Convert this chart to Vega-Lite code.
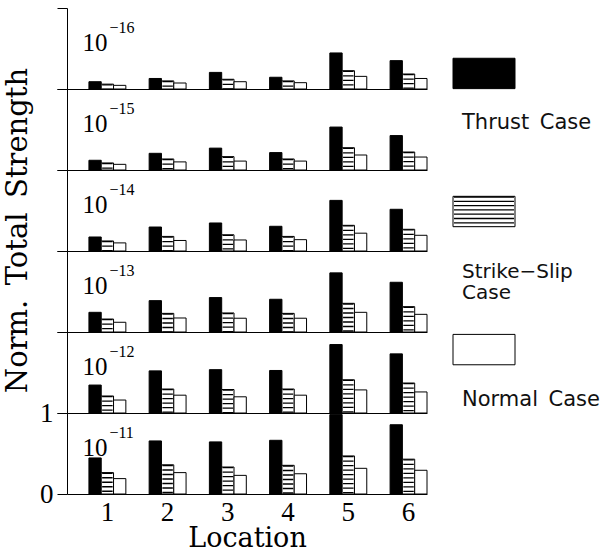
{
  "$schema": "https://vega.github.io/schema/vega-lite/v6.json",
  "padding": {"left": 3, "top": 7, "right": 0, "bottom": 0},
  "background": "white",
  "datasets": {
    "bars": [
      {"p": "−16", "loc": "1", "case": "Thrust", "v": 0.09}, {"p": "−16", "loc": "1", "case": "Strike-Slip", "v": 0.06}, {"p": "−16", "loc": "1", "case": "Normal", "v": 0.045},
      {"p": "−16", "loc": "2", "case": "Thrust", "v": 0.13}, {"p": "−16", "loc": "2", "case": "Strike-Slip", "v": 0.1}, {"p": "−16", "loc": "2", "case": "Normal", "v": 0.074},
      {"p": "−16", "loc": "3", "case": "Thrust", "v": 0.205}, {"p": "−16", "loc": "3", "case": "Strike-Slip", "v": 0.12}, {"p": "−16", "loc": "3", "case": "Normal", "v": 0.09},
      {"p": "−16", "loc": "4", "case": "Thrust", "v": 0.145}, {"p": "−16", "loc": "4", "case": "Strike-Slip", "v": 0.1}, {"p": "−16", "loc": "4", "case": "Normal", "v": 0.078},
      {"p": "−16", "loc": "5", "case": "Thrust", "v": 0.445}, {"p": "−16", "loc": "5", "case": "Strike-Slip", "v": 0.226}, {"p": "−16", "loc": "5", "case": "Normal", "v": 0.156},
      {"p": "−16", "loc": "6", "case": "Thrust", "v": 0.35}, {"p": "−16", "loc": "6", "case": "Strike-Slip", "v": 0.185}, {"p": "−16", "loc": "6", "case": "Normal", "v": 0.13},
      {"p": "−15", "loc": "1", "case": "Thrust", "v": 0.12}, {"p": "−15", "loc": "1", "case": "Strike-Slip", "v": 0.087}, {"p": "−15", "loc": "1", "case": "Normal", "v": 0.07},
      {"p": "−15", "loc": "2", "case": "Thrust", "v": 0.206}, {"p": "−15", "loc": "2", "case": "Strike-Slip", "v": 0.136}, {"p": "−15", "loc": "2", "case": "Normal", "v": 0.1},
      {"p": "−15", "loc": "3", "case": "Thrust", "v": 0.27}, {"p": "−15", "loc": "3", "case": "Strike-Slip", "v": 0.165}, {"p": "−15", "loc": "3", "case": "Normal", "v": 0.11},
      {"p": "−15", "loc": "4", "case": "Thrust", "v": 0.215}, {"p": "−15", "loc": "4", "case": "Strike-Slip", "v": 0.136}, {"p": "−15", "loc": "4", "case": "Normal", "v": 0.11},
      {"p": "−15", "loc": "5", "case": "Thrust", "v": 0.53}, {"p": "−15", "loc": "5", "case": "Strike-Slip", "v": 0.275}, {"p": "−15", "loc": "5", "case": "Normal", "v": 0.185},
      {"p": "−15", "loc": "6", "case": "Thrust", "v": 0.425}, {"p": "−15", "loc": "6", "case": "Strike-Slip", "v": 0.222}, {"p": "−15", "loc": "6", "case": "Normal", "v": 0.16},
      {"p": "−14", "loc": "1", "case": "Thrust", "v": 0.173}, {"p": "−14", "loc": "1", "case": "Strike-Slip", "v": 0.124}, {"p": "−14", "loc": "1", "case": "Normal", "v": 0.1},
      {"p": "−14", "loc": "2", "case": "Thrust", "v": 0.296}, {"p": "−14", "loc": "2", "case": "Strike-Slip", "v": 0.18}, {"p": "−14", "loc": "2", "case": "Normal", "v": 0.13},
      {"p": "−14", "loc": "3", "case": "Thrust", "v": 0.346}, {"p": "−14", "loc": "3", "case": "Strike-Slip", "v": 0.2}, {"p": "−14", "loc": "3", "case": "Normal", "v": 0.136},
      {"p": "−14", "loc": "4", "case": "Thrust", "v": 0.305}, {"p": "−14", "loc": "4", "case": "Strike-Slip", "v": 0.18}, {"p": "−14", "loc": "4", "case": "Normal", "v": 0.14},
      {"p": "−14", "loc": "5", "case": "Thrust", "v": 0.625}, {"p": "−14", "loc": "5", "case": "Strike-Slip", "v": 0.317}, {"p": "−14", "loc": "5", "case": "Normal", "v": 0.22},
      {"p": "−14", "loc": "6", "case": "Thrust", "v": 0.515}, {"p": "−14", "loc": "6", "case": "Strike-Slip", "v": 0.268}, {"p": "−14", "loc": "6", "case": "Normal", "v": 0.194},
      {"p": "−13", "loc": "1", "case": "Thrust", "v": 0.243}, {"p": "−13", "loc": "1", "case": "Strike-Slip", "v": 0.16}, {"p": "−13", "loc": "1", "case": "Normal", "v": 0.12},
      {"p": "−13", "loc": "2", "case": "Thrust", "v": 0.387}, {"p": "−13", "loc": "2", "case": "Strike-Slip", "v": 0.23}, {"p": "−13", "loc": "2", "case": "Normal", "v": 0.173},
      {"p": "−13", "loc": "3", "case": "Thrust", "v": 0.425}, {"p": "−13", "loc": "3", "case": "Strike-Slip", "v": 0.235}, {"p": "−13", "loc": "3", "case": "Normal", "v": 0.17},
      {"p": "−13", "loc": "4", "case": "Thrust", "v": 0.404}, {"p": "−13", "loc": "4", "case": "Strike-Slip", "v": 0.23}, {"p": "−13", "loc": "4", "case": "Normal", "v": 0.17},
      {"p": "−13", "loc": "5", "case": "Thrust", "v": 0.73}, {"p": "−13", "loc": "5", "case": "Strike-Slip", "v": 0.354}, {"p": "−13", "loc": "5", "case": "Normal", "v": 0.243},
      {"p": "−13", "loc": "6", "case": "Thrust", "v": 0.614}, {"p": "−13", "loc": "6", "case": "Strike-Slip", "v": 0.313}, {"p": "−13", "loc": "6", "case": "Normal", "v": 0.218},
      {"p": "−12", "loc": "1", "case": "Thrust", "v": 0.345}, {"p": "−12", "loc": "1", "case": "Strike-Slip", "v": 0.21}, {"p": "−12", "loc": "1", "case": "Normal", "v": 0.16},
      {"p": "−12", "loc": "2", "case": "Thrust", "v": 0.52}, {"p": "−12", "loc": "2", "case": "Strike-Slip", "v": 0.296}, {"p": "−12", "loc": "2", "case": "Normal", "v": 0.22},
      {"p": "−12", "loc": "3", "case": "Thrust", "v": 0.535}, {"p": "−12", "loc": "3", "case": "Strike-Slip", "v": 0.29}, {"p": "−12", "loc": "3", "case": "Normal", "v": 0.2},
      {"p": "−12", "loc": "4", "case": "Thrust", "v": 0.525}, {"p": "−12", "loc": "4", "case": "Strike-Slip", "v": 0.296}, {"p": "−12", "loc": "4", "case": "Normal", "v": 0.22},
      {"p": "−12", "loc": "5", "case": "Thrust", "v": 0.845}, {"p": "−12", "loc": "5", "case": "Strike-Slip", "v": 0.41}, {"p": "−12", "loc": "5", "case": "Normal", "v": 0.285},
      {"p": "−12", "loc": "6", "case": "Thrust", "v": 0.73}, {"p": "−12", "loc": "6", "case": "Strike-Slip", "v": 0.37}, {"p": "−12", "loc": "6", "case": "Normal", "v": 0.26},
      {"p": "−11", "loc": "1", "case": "Thrust", "v": 0.445}, {"p": "−11", "loc": "1", "case": "Strike-Slip", "v": 0.264}, {"p": "−11", "loc": "1", "case": "Normal", "v": 0.19},
      {"p": "−11", "loc": "2", "case": "Thrust", "v": 0.655}, {"p": "−11", "loc": "2", "case": "Strike-Slip", "v": 0.36}, {"p": "−11", "loc": "2", "case": "Normal", "v": 0.264},
      {"p": "−11", "loc": "3", "case": "Thrust", "v": 0.643}, {"p": "−11", "loc": "3", "case": "Strike-Slip", "v": 0.333}, {"p": "−11", "loc": "3", "case": "Normal", "v": 0.23},
      {"p": "−11", "loc": "4", "case": "Thrust", "v": 0.663}, {"p": "−11", "loc": "4", "case": "Strike-Slip", "v": 0.354}, {"p": "−11", "loc": "4", "case": "Normal", "v": 0.25},
      {"p": "−11", "loc": "5", "case": "Thrust", "v": 0.98}, {"p": "−11", "loc": "5", "case": "Strike-Slip", "v": 0.47}, {"p": "−11", "loc": "5", "case": "Normal", "v": 0.317},
      {"p": "−11", "loc": "6", "case": "Thrust", "v": 0.855}, {"p": "−11", "loc": "6", "case": "Strike-Slip", "v": 0.43}, {"p": "−11", "loc": "6", "case": "Normal", "v": 0.293}
    ],
    "legend": [
      {"case": "Thrust", "label": "Thrust\u2002Case"},
      {"case": "Strike-Slip", "label": "Strike−Slip\nCase"},
      {"case": "Normal", "label": "Normal\u2002Case"}
    ]
  },
  "spacing": 24,
  "hconcat": [
    {
      "data": {"name": "bars"},
      "spacing": 0,
      "bounds": "flush",
      "vconcat": [
        {
          "width": 360, "height": 81,
          "transform": [{"filter": "datum.p == '−16'"}],
          "encoding": {
            "x": {"field": "loc", "type": "nominal", "scale": {"paddingInner": 0.387, "paddingOuter": 0.182, "align": 1}, "axis": {"labels": false, "ticks": false, "title": null}},
            "y": {"field": "v", "type": "quantitative", "scale": {"domain": [0, 1], "nice": false}, "axis": {"values": [0, 1], "labels": false, "tickSize": 10, "title": null}}
          },
          "layer": [
            {"mark": {"type": "bar", "stroke": "black", "strokeWidth": 1}, "encoding": {"xOffset": {"field": "case", "type": "nominal", "scale": {"domain": ["Thrust", "Strike-Slip", "Normal"], "paddingInner": 0, "paddingOuter": 0}}, "fill": {"field": "case", "type": "nominal", "scale": {"domain": ["Thrust", "Strike-Slip", "Normal"], "range": ["black", "white", "white"]}, "legend": null}}},
            {"transform": [{"filter": "datum.case == 'Strike-Slip'"}], "mark": {"type": "rule", "strokeWidth": 10.5, "strokeDash": [1.3, 3.2], "color": "black", "strokeCap": "butt"}, "encoding": {"xOffset": {"field": "case", "type": "nominal"}, "y2": {"datum": 0}}},
            {"transform": [{"filter": "datum.loc == '1' && datum.case == 'Thrust'"}], "mark": {"type": "text", "align": "right", "baseline": "alphabetic", "font": "Liberation Serif", "fontSize": 25, "text": "10"}, "encoding": {"y": {"datum": 0.47}}},
            {"transform": [{"filter": "datum.loc == '1' && datum.case == 'Thrust'"}], "mark": {"type": "text", "align": "left", "baseline": "alphabetic", "dx": 2, "font": "Liberation Serif", "fontSize": 16}, "encoding": {"y": {"datum": 0.69}, "text": {"field": "p"}}}
          ]
        },
        {
          "width": 360, "height": 81,
          "transform": [{"filter": "datum.p == '−15'"}],
          "encoding": {
            "x": {"field": "loc", "type": "nominal", "scale": {"paddingInner": 0.387, "paddingOuter": 0.182, "align": 1}, "axis": {"labels": false, "ticks": false, "title": null}},
            "y": {"field": "v", "type": "quantitative", "scale": {"domain": [0, 1], "nice": false}, "axis": {"values": [0, 1], "labels": false, "tickSize": 10, "title": null}}
          },
          "layer": [
            {"mark": {"type": "bar", "stroke": "black", "strokeWidth": 1}, "encoding": {"xOffset": {"field": "case", "type": "nominal", "scale": {"domain": ["Thrust", "Strike-Slip", "Normal"], "paddingInner": 0, "paddingOuter": 0}}, "fill": {"field": "case", "type": "nominal", "scale": {"domain": ["Thrust", "Strike-Slip", "Normal"], "range": ["black", "white", "white"]}, "legend": null}}},
            {"transform": [{"filter": "datum.case == 'Strike-Slip'"}], "mark": {"type": "rule", "strokeWidth": 10.5, "strokeDash": [1.3, 3.2], "color": "black", "strokeCap": "butt"}, "encoding": {"xOffset": {"field": "case", "type": "nominal"}, "y2": {"datum": 0}}},
            {"transform": [{"filter": "datum.loc == '1' && datum.case == 'Thrust'"}], "mark": {"type": "text", "align": "right", "baseline": "alphabetic", "font": "Liberation Serif", "fontSize": 25, "text": "10"}, "encoding": {"y": {"datum": 0.47}}},
            {"transform": [{"filter": "datum.loc == '1' && datum.case == 'Thrust'"}], "mark": {"type": "text", "align": "left", "baseline": "alphabetic", "dx": 2, "font": "Liberation Serif", "fontSize": 16}, "encoding": {"y": {"datum": 0.69}, "text": {"field": "p"}}}
          ]
        },
        {
          "width": 360, "height": 81,
          "transform": [{"filter": "datum.p == '−14'"}],
          "encoding": {
            "x": {"field": "loc", "type": "nominal", "scale": {"paddingInner": 0.387, "paddingOuter": 0.182, "align": 1}, "axis": {"labels": false, "ticks": false, "title": null}},
            "y": {"field": "v", "type": "quantitative", "scale": {"domain": [0, 1], "nice": false}, "axis": {"values": [0, 1], "labels": false, "tickSize": 10, "title": null}}
          },
          "layer": [
            {"mark": {"type": "bar", "stroke": "black", "strokeWidth": 1}, "encoding": {"xOffset": {"field": "case", "type": "nominal", "scale": {"domain": ["Thrust", "Strike-Slip", "Normal"], "paddingInner": 0, "paddingOuter": 0}}, "fill": {"field": "case", "type": "nominal", "scale": {"domain": ["Thrust", "Strike-Slip", "Normal"], "range": ["black", "white", "white"]}, "legend": null}}},
            {"transform": [{"filter": "datum.case == 'Strike-Slip'"}], "mark": {"type": "rule", "strokeWidth": 10.5, "strokeDash": [1.3, 3.2], "color": "black", "strokeCap": "butt"}, "encoding": {"xOffset": {"field": "case", "type": "nominal"}, "y2": {"datum": 0}}},
            {"transform": [{"filter": "datum.loc == '1' && datum.case == 'Thrust'"}], "mark": {"type": "text", "align": "right", "baseline": "alphabetic", "font": "Liberation Serif", "fontSize": 25, "text": "10"}, "encoding": {"y": {"datum": 0.47}}},
            {"transform": [{"filter": "datum.loc == '1' && datum.case == 'Thrust'"}], "mark": {"type": "text", "align": "left", "baseline": "alphabetic", "dx": 2, "font": "Liberation Serif", "fontSize": 16}, "encoding": {"y": {"datum": 0.69}, "text": {"field": "p"}}}
          ]
        },
        {
          "width": 360, "height": 81,
          "transform": [{"filter": "datum.p == '−13'"}],
          "encoding": {
            "x": {"field": "loc", "type": "nominal", "scale": {"paddingInner": 0.387, "paddingOuter": 0.182, "align": 1}, "axis": {"labels": false, "ticks": false, "title": null}},
            "y": {"field": "v", "type": "quantitative", "scale": {"domain": [0, 1], "nice": false}, "axis": {"values": [0, 1], "labels": false, "tickSize": 10, "title": null}}
          },
          "layer": [
            {"mark": {"type": "bar", "stroke": "black", "strokeWidth": 1}, "encoding": {"xOffset": {"field": "case", "type": "nominal", "scale": {"domain": ["Thrust", "Strike-Slip", "Normal"], "paddingInner": 0, "paddingOuter": 0}}, "fill": {"field": "case", "type": "nominal", "scale": {"domain": ["Thrust", "Strike-Slip", "Normal"], "range": ["black", "white", "white"]}, "legend": null}}},
            {"transform": [{"filter": "datum.case == 'Strike-Slip'"}], "mark": {"type": "rule", "strokeWidth": 10.5, "strokeDash": [1.3, 3.2], "color": "black", "strokeCap": "butt"}, "encoding": {"xOffset": {"field": "case", "type": "nominal"}, "y2": {"datum": 0}}},
            {"transform": [{"filter": "datum.loc == '1' && datum.case == 'Thrust'"}], "mark": {"type": "text", "align": "right", "baseline": "alphabetic", "font": "Liberation Serif", "fontSize": 25, "text": "10"}, "encoding": {"y": {"datum": 0.47}}},
            {"transform": [{"filter": "datum.loc == '1' && datum.case == 'Thrust'"}], "mark": {"type": "text", "align": "left", "baseline": "alphabetic", "dx": 2, "font": "Liberation Serif", "fontSize": 16}, "encoding": {"y": {"datum": 0.69}, "text": {"field": "p"}}}
          ]
        },
        {
          "width": 360, "height": 81,
          "transform": [{"filter": "datum.p == '−12'"}],
          "encoding": {
            "x": {"field": "loc", "type": "nominal", "scale": {"paddingInner": 0.387, "paddingOuter": 0.182, "align": 1}, "axis": {"labels": false, "ticks": false, "title": null}},
            "y": {"field": "v", "type": "quantitative", "scale": {"domain": [0, 1], "nice": false}, "axis": {"values": [0, 1], "labels": false, "tickSize": 10, "title": null}}
          },
          "layer": [
            {"mark": {"type": "bar", "stroke": "black", "strokeWidth": 1}, "encoding": {"xOffset": {"field": "case", "type": "nominal", "scale": {"domain": ["Thrust", "Strike-Slip", "Normal"], "paddingInner": 0, "paddingOuter": 0}}, "fill": {"field": "case", "type": "nominal", "scale": {"domain": ["Thrust", "Strike-Slip", "Normal"], "range": ["black", "white", "white"]}, "legend": null}}},
            {"transform": [{"filter": "datum.case == 'Strike-Slip'"}], "mark": {"type": "rule", "strokeWidth": 10.5, "strokeDash": [1.3, 3.2], "color": "black", "strokeCap": "butt"}, "encoding": {"xOffset": {"field": "case", "type": "nominal"}, "y2": {"datum": 0}}},
            {"transform": [{"filter": "datum.loc == '1' && datum.case == 'Thrust'"}], "mark": {"type": "text", "align": "right", "baseline": "alphabetic", "font": "Liberation Serif", "fontSize": 25, "text": "10"}, "encoding": {"y": {"datum": 0.47}}},
            {"transform": [{"filter": "datum.loc == '1' && datum.case == 'Thrust'"}], "mark": {"type": "text", "align": "left", "baseline": "alphabetic", "dx": 2, "font": "Liberation Serif", "fontSize": 16}, "encoding": {"y": {"datum": 0.69}, "text": {"field": "p"}}}
          ]
        },
        {
          "width": 360, "height": 81,
          "transform": [{"filter": "datum.p == '−11'"}],
          "encoding": {
            "x": {"field": "loc", "type": "nominal", "scale": {"paddingInner": 0.387, "paddingOuter": 0.182, "align": 1}, "axis": {"labels": true, "ticks": false, "labelAngle": 0, "labelFont": "Liberation Serif", "labelFontSize": 27, "labelPadding": 5, "title": "Location", "titleFont": "DejaVu Serif", "titleFontSize": 27, "titleFontWeight": "normal", "titlePadding": 0}},
            "y": {"field": "v", "type": "quantitative", "scale": {"domain": [0, 1], "nice": false}, "axis": {"values": [0, 1], "format": "d", "labels": true, "labelFont": "Liberation Serif", "labelFontSize": 27, "labelPadding": 4, "tickSize": 10, "title": "Norm.\u2002Total\u2002Strength", "titleFont": "DejaVu Serif", "titleFontSize": 29, "titleFontWeight": "normal", "titleX": -50, "titleY": -183, "titleBaseline": "middle", "titleAlign": "center"}}
          },
          "layer": [
            {"mark": {"type": "bar", "stroke": "black", "strokeWidth": 1}, "encoding": {"xOffset": {"field": "case", "type": "nominal", "scale": {"domain": ["Thrust", "Strike-Slip", "Normal"], "paddingInner": 0, "paddingOuter": 0}}, "fill": {"field": "case", "type": "nominal", "scale": {"domain": ["Thrust", "Strike-Slip", "Normal"], "range": ["black", "white", "white"]}, "legend": null}}},
            {"transform": [{"filter": "datum.case == 'Strike-Slip'"}], "mark": {"type": "rule", "strokeWidth": 10.5, "strokeDash": [1.3, 3.2], "color": "black", "strokeCap": "butt"}, "encoding": {"xOffset": {"field": "case", "type": "nominal"}, "y2": {"datum": 0}}},
            {"transform": [{"filter": "datum.loc == '1' && datum.case == 'Thrust'"}], "mark": {"type": "text", "align": "right", "baseline": "alphabetic", "font": "Liberation Serif", "fontSize": 25, "text": "10"}, "encoding": {"y": {"datum": 0.47}}},
            {"transform": [{"filter": "datum.loc == '1' && datum.case == 'Thrust'"}], "mark": {"type": "text", "align": "left", "baseline": "alphabetic", "dx": 2, "font": "Liberation Serif", "fontSize": 16}, "encoding": {"y": {"datum": 0.69}, "text": {"field": "p"}}}
          ]
        }
      ]
    },
    {
      "data": {"name": "legend"},
      "width": 62, "height": 486,
      "encoding": {
        "y": {"field": "case", "type": "nominal", "scale": {"domain": ["Thrust", "Strike-Slip", "Normal"], "paddingInner": 0.78, "paddingOuter": 0.65, "align": 0.28}, "axis": null}
      },
      "layer": [
        {"mark": {"type": "bar", "stroke": "black", "strokeWidth": 1}, "encoding": {"fill": {"field": "case", "type": "nominal", "scale": {"domain": ["Thrust", "Strike-Slip", "Normal"], "range": ["black", "white", "white"]}, "legend": null}}},
        {"transform": [{"filter": "datum.case == 'Strike-Slip'"}], "mark": {"type": "rule", "strokeWidth": 60, "strokeDash": [1.3, 3], "color": "black", "strokeCap": "butt"}, "encoding": {"y": {"field": "case", "type": "nominal", "bandPosition": 0}, "y2": {"field": "case", "bandPosition": 1}}},
        {"transform": [{"filter": "datum.case != 'Strike-Slip'"}], "mark": {"type": "text", "align": "left", "baseline": "top", "dx": -22, "dy": 39, "font": "DejaVu Sans", "fontSize": 21, "color": "#111"}, "encoding": {"text": {"field": "label"}}},
        {"transform": [{"filter": "datum.case == 'Strike-Slip'"}], "mark": {"type": "text", "align": "left", "baseline": "top", "dx": -22, "dy": 50, "lineBreak": "\n", "lineHeight": 21, "font": "DejaVu Sans", "fontSize": 20, "color": "#111"}, "encoding": {"text": {"field": "label"}}}
      ]
    }
  ],
  "config": {
    "view": {"stroke": null},
    "axis": {"domainColor": "black", "tickColor": "black", "labelColor": "black", "titleColor": "black", "grid": false, "domainWidth": 1, "tickWidth": 1}
  }
}
